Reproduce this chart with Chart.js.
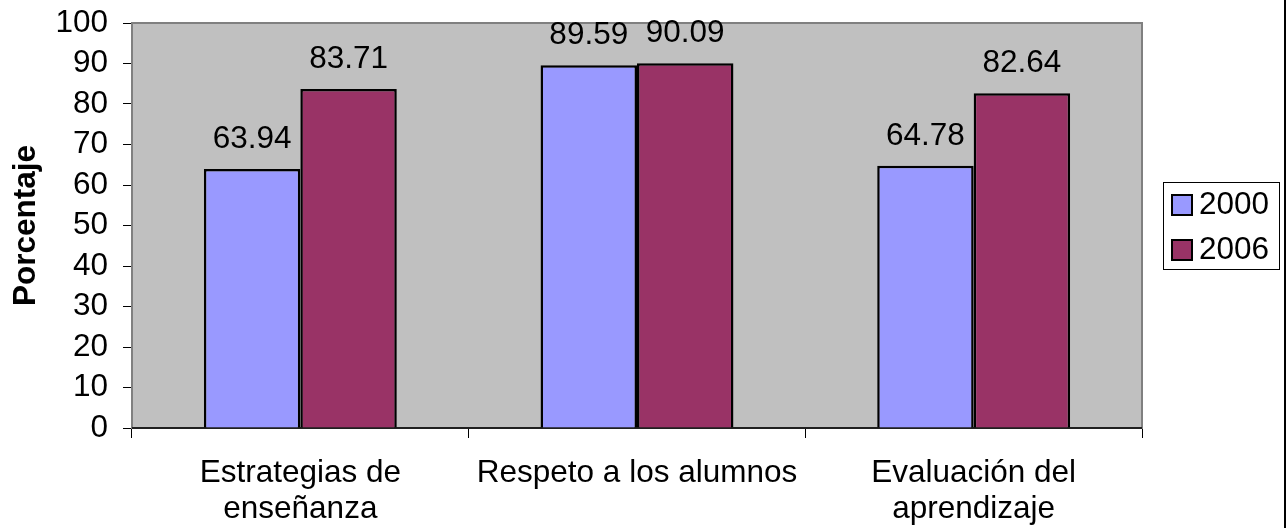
<!DOCTYPE html>
<html>
<head>
<meta charset="utf-8">
<script src="https://cdn.jsdelivr.net/npm/chart.js@4/dist/chart.umd.min.js"></script>
<style>
  html, body { margin: 0; padding: 0; background: #fff; }
  #wrap { width: 1287px; height: 528px; }
</style>
</head>
<body>
<div id="wrap"><canvas id="barChart" width="1287" height="528"></canvas></div>
<script>
// Chart data
const categories = [
    ['Estrategias de', 'enseñanza'],
    'Respeto a los alumnos',
    ['Evaluación del', 'aprendizaje']
];
const values2000 = [63.94, 89.59, 64.78];
const values2006 = [83.71, 90.09, 82.64];
const seriesNames = ['2000', '2006'];
const yTicks = [0, 10, 20, 30, 40, 50, 60, 70, 80, 90, 100];

const FONT = '"Liberation Sans", Arial, sans-serif';
const FONT_SIZE = 31.5;

// Gray plot area with border, drawn behind the bars
const plotArea = {
    id: 'plotArea',
    beforeDatasetsDraw(chart) {
        const { ctx, chartArea: a } = chart;
        ctx.save();
        ctx.fillStyle = '#C0C0C0';
        ctx.fillRect(a.left, a.top, a.right - a.left, a.bottom - a.top);
        ctx.strokeStyle = '#808080';
        ctx.lineWidth = 2;
        ctx.strokeRect(a.left, a.top, a.right - a.left, a.bottom - a.top);
        // zero line
        ctx.strokeStyle = '#000';
        ctx.lineWidth = 1.5;
        ctx.beginPath();
        ctx.moveTo(a.left, a.bottom);
        ctx.lineTo(a.right, a.bottom);
        ctx.stroke();
        ctx.restore();
    }
};

// Value labels above each bar
const valueLabels = {
    id: 'valueLabels',
    afterDatasetsDraw(chart) {
        const { ctx } = chart;
        ctx.save();
        ctx.font = FONT_SIZE + 'px ' + FONT;
        ctx.fillStyle = '#000';
        ctx.textAlign = 'center';
        ctx.textBaseline = 'alphabetic';
        chart.data.datasets.forEach((ds, i) => {
            chart.getDatasetMeta(i).data.forEach((bar, j) => {
                ctx.fillText(ds.data[j].toFixed(2), bar.x, bar.y - 21);
            });
        });
        ctx.restore();
    }
};

// Boxed legend on the right, plus the outer chart border
const boxLegend = {
    id: 'boxLegend',
    afterDraw(chart) {
        const { ctx } = chart;
        ctx.save();
        ctx.strokeStyle = '#000';
        ctx.lineWidth = 1;
        ctx.strokeRect(1163.5, 182.5, 116, 87);

        ctx.font = FONT_SIZE + 'px ' + FONT;
        ctx.textAlign = 'left';
        ctx.textBaseline = 'middle';
        chart.data.datasets.forEach((ds, i) => {
            const y = 195 + i * 45;
            ctx.fillStyle = ds.backgroundColor;
            ctx.fillRect(1172, y, 20, 20);
            ctx.strokeStyle = '#000';
            ctx.lineWidth = 2;
            ctx.strokeRect(1172, y, 20, 20);
            ctx.fillStyle = '#000';
            ctx.fillText(ds.label, 1199, y + 10);
        });

        // outer border on the right edge
        ctx.fillStyle = '#000';
        ctx.fillRect(1284, 0, 2, 528);
        ctx.restore();
    }
};

const ctx = document.getElementById('barChart').getContext('2d');
new Chart(ctx, {
    type: 'bar',
    data: {
        labels: categories,
        datasets: [
            {
                label: seriesNames[0],
                data: values2000,
                backgroundColor: '#9999FF',
                borderColor: '#000',
                borderWidth: 2.5,
                borderSkipped: 'bottom'
            },
            {
                label: seriesNames[1],
                data: values2006,
                backgroundColor: '#993366',
                borderColor: '#000',
                borderWidth: 2.5,
                borderSkipped: 'bottom'
            }
        ]
    },
    options: {
        responsive: false,
        animation: false,
        devicePixelRatio: 1,
        layout: {
            padding: { top: 23, right: 145, left: 0, bottom: 0 }
        },
        categoryPercentage: 0.573,
        barPercentage: 1.0,
        plugins: {
            legend: { display: false },
            tooltip: { enabled: false },
            title: { display: false }
        },
        scales: {
            x: {
                afterFit(scale) {
                    scale.height = 100;
                    scale.paddingLeft = 0;
                    scale.paddingRight = 0;
                },
                grid: {
                    offset: true,
                    drawOnChartArea: false,
                    drawTicks: true,
                    tickLength: 10,
                    color: '#000',
                    lineWidth: 1
                },
                border: { display: false },
                ticks: {
                    color: '#000',
                    padding: 18,
                    maxRotation: 0,
                    autoSkip: false,
                    font: { family: FONT, size: FONT_SIZE, lineHeight: 1.12 }
                }
            },
            y: {
                min: 0,
                max: 100,
                afterFit(scale) {
                    scale.width = 132;
                    scale.paddingTop = 0;
                    scale.paddingBottom = 0;
                },
                afterBuildTicks(scale) {
                    scale.ticks = yTicks.map(v => ({ value: v }));
                },
                grid: {
                    drawOnChartArea: false,
                    drawTicks: true,
                    tickLength: 9,
                    color: '#000',
                    lineWidth: 1
                },
                border: { display: false },
                ticks: {
                    color: '#000',
                    padding: 15,
                    autoSkip: false,
                    font: { family: FONT, size: FONT_SIZE }
                },
                title: {
                    display: true,
                    text: 'Porcentaje',
                    color: '#000',
                    padding: { top: 7, bottom: 0 },
                    font: { family: FONT, size: FONT_SIZE, weight: 'bold' }
                }
            }
        }
    },
    plugins: [plotArea, valueLabels, boxLegend]
});
</script>
</body>
</html>
